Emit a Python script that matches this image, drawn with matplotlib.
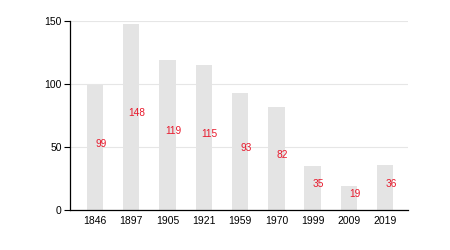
import matplotlib
matplotlib.use('Agg')
import matplotlib.pyplot as plt

years = ['1846', '1897', '1905', '1921', '1959', '1970', '1999', '2009', '2019']
values = [99, 148, 119, 115, 93, 82, 35, 19, 36]

plt.rcParams['font.family'] = ['Liberation Sans', 'DejaVu Sans']

fig = plt.figure(figsize=(4.5, 2.5), dpi=100)
ax = fig.add_axes([0.1556, 0.16, 0.751, 0.756])

x = list(range(len(years)))
ax.bar(x, values, width=0.45, color='#e4e4e4', zorder=2)
for xi, v in zip(x, values):
    # labels sit a little right of centre and just above half height
    ax.text(xi + 0.16, v / 2 + 3, str(v), color='#e8192c', fontsize=7.3,
            ha='center', va='center', zorder=3)

ax.set_xlim(-0.69, 8.63)
ax.set_ylim(0, 150)
ax.set_yticks([0, 50, 100, 150])
ax.set_xticks(x)
ax.set_xticklabels(years)
ax.yaxis.grid(True, color='#e6e6e6', linewidth=0.8, zorder=0)
ax.set_axisbelow(True)
ax.tick_params(axis='x', length=0, labelsize=7.5, pad=4)
ax.tick_params(axis='y', length=4, width=0.8, labelsize=7.5, pad=2)
ax.spines['top'].set_visible(False)
ax.spines['right'].set_visible(False)
ax.spines['left'].set_linewidth(0.9)
ax.spines['bottom'].set_linewidth(0.9)

fig.savefig('out.png', dpi=100)
